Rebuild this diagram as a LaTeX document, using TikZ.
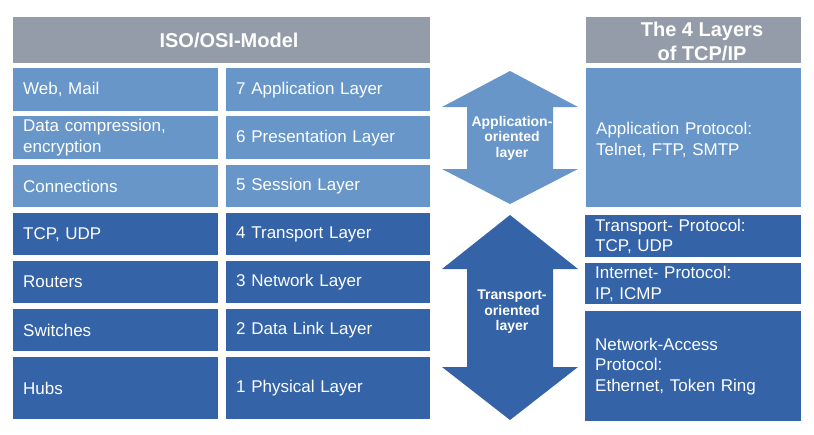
\documentclass[tikz,border=0pt]{standalone}
\usepackage{fontspec}
\setmainfont{Liberation Sans}
\definecolor{lightb}{RGB}{104,150,200}
\definecolor{darkb}{RGB}{52,99,168}
\definecolor{headg}{RGB}{147,156,168}
\begin{document}
\begin{tikzpicture}[x=1pt,y=-1pt,
  cell/.style={anchor=north west, text=white, inner xsep=10pt, inner ysep=0pt,
    align=left, font=\fontsize{17}{20.5}\selectfont},
  lcell/.style={cell, fill=lightb},
  dcell/.style={cell, fill=darkb},
  head/.style={anchor=north west, fill=headg, inner sep=0pt},
  headtxt/.style={text=white, align=center, font=\bfseries\fontsize{20}{24}\selectfont},
  arrowtxt/.style={text=white, align=center, font=\bfseries\fontsize{14}{15.5}\selectfont}]
\useasboundingbox[fill=white] (0,0) rectangle (814,434);
% headers
\node[head, minimum width=417pt, minimum height=46pt] (hosi) at (13,17) {};
\node[headtxt] (hosit) at (229,40) {ISO/OSI-Model};
\node[head, minimum width=215pt, minimum height=46pt] (htcp) at (586,17) {};
\node[headtxt] (htcpt) at (702,41) {The 4 Layers\\of TCP/IP};
% left column
\node[lcell, text width=185pt, minimum height=43pt] (l7) at (13,68) {Web, Mail};
\node[lcell, text width=185pt, minimum height=43pt] (l6) at (13,116) {Data compression,\\encryption};
\node[lcell, text width=185pt, minimum height=42pt] (l5) at (13,165) {Connections};
\node[dcell, text width=185pt, minimum height=42pt] (l4) at (13,213) {TCP, UDP};
\node[dcell, text width=185pt, minimum height=42pt] (l3) at (13,261) {Routers};
\node[dcell, text width=185pt, minimum height=42pt] (l2) at (13,309) {Switches};
\node[dcell, text width=185pt, minimum height=62pt] (l1) at (13,357) {Hubs};
% middle column
\node[lcell, text width=184pt, minimum height=43pt] (m7) at (226,68) {7 Application Layer};
\node[lcell, text width=184pt, minimum height=43pt] (m6) at (226,116) {6 Presentation Layer};
\node[lcell, text width=184pt, minimum height=42pt] (m5) at (226,165) {5 Session Layer};
\node[dcell, text width=184pt, minimum height=42pt] (m4) at (226,213) {4 Transport Layer};
\node[dcell, text width=184pt, minimum height=42pt] (m3) at (226,261) {3 Network Layer};
\node[dcell, text width=184pt, minimum height=42pt] (m2) at (226,309) {2 Data Link Layer};
\node[dcell, text width=184pt, minimum height=62pt] (m1) at (226,357) {1 Physical Layer};
% arrows
\fill[lightb] (510,71) -- (578,107) -- (553,107) -- (553,169) -- (578,169) -- (510,204)
  -- (442,169) -- (467,169) -- (467,107) -- (442,107) -- cycle;
\node[arrowtxt] (aa) at (512,138) {Application-\\oriented\\layer};
\fill[darkb] (510,215) -- (578,269) -- (553,269) -- (553,367) -- (578,367) -- (510,420)
  -- (442,367) -- (467,367) -- (467,269) -- (442,269) -- cycle;
\node[arrowtxt] (at) at (512,312) {Transport-\\oriented\\layer};
% right column
\node[lcell, text width=195pt, minimum height=139pt] (r4) at (586,68) {\\[-4pt]Application Protocol:\\Telnet, FTP, SMTP};
\node[dcell, text width=196pt, minimum height=42pt] (r3) at (585,215) {Transport- Protocol:\\TCP, UDP};
\node[dcell, text width=196pt, minimum height=41pt] (r2) at (585,263) {Internet- Protocol:\\IP, ICMP};
\node[dcell, text width=196pt, minimum height=110pt] (r1) at (585,311) {Network-Access\\Protocol:\\Ethernet, Token Ring};
\end{tikzpicture}
\end{document}
